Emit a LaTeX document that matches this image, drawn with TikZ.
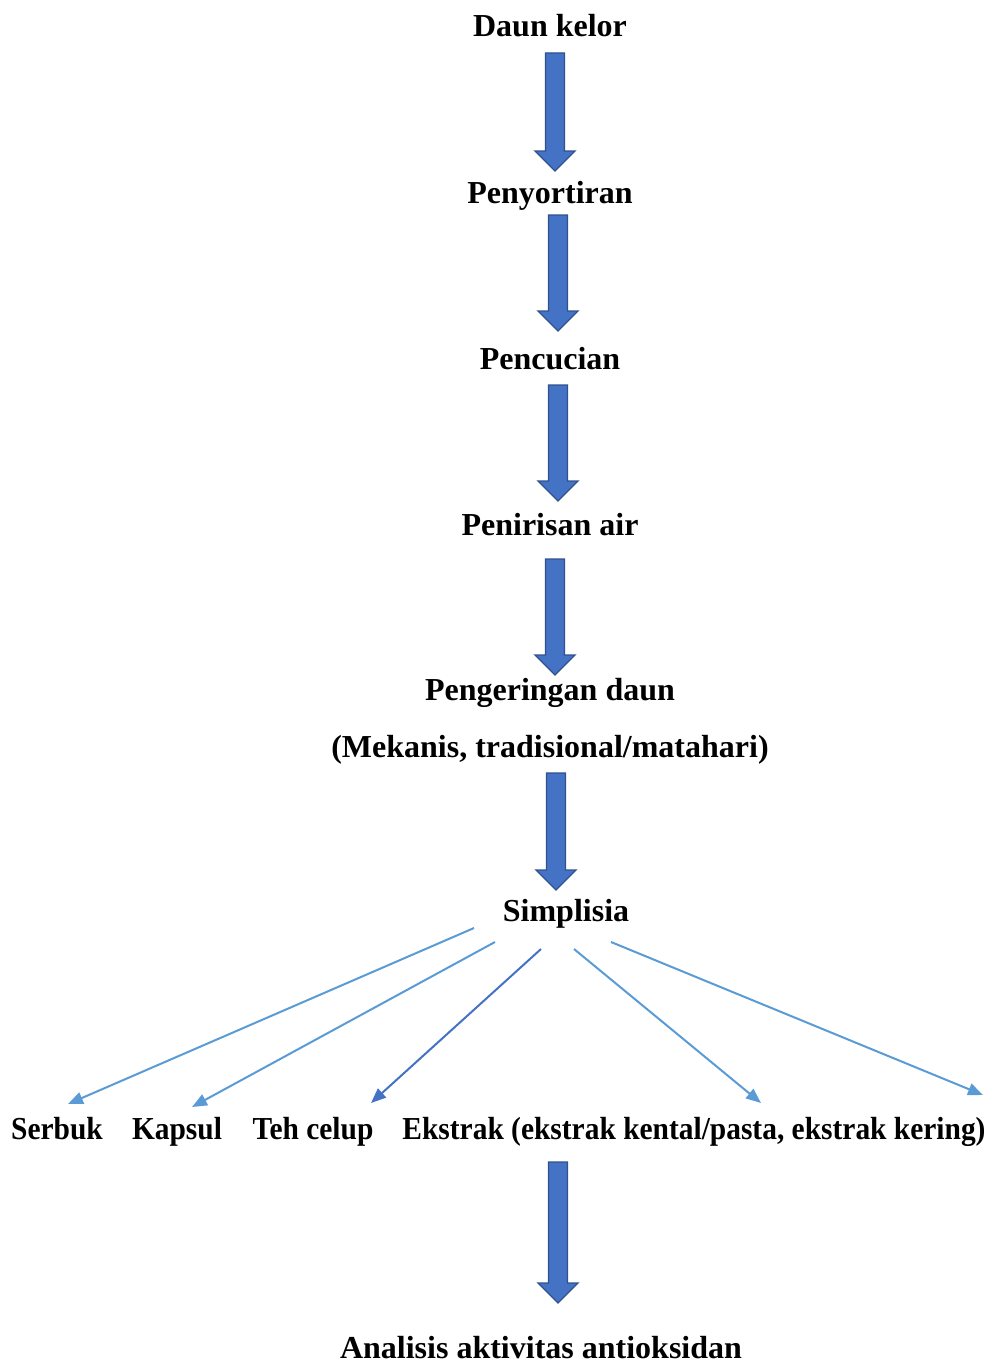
\documentclass[tikz,border=0pt]{standalone}
\usepackage{graphicx}
\usepackage{fontspec}
\setmainfont{Liberation Serif}
\usetikzlibrary{arrows.meta,calc}
\definecolor{blockblue}{HTML}{4472C4}
\definecolor{blockedge}{HTML}{2F528F}
\definecolor{lineblue}{HTML}{5B9BD5}
% fat down arrow from coordinate #1 (top) to #2 (tip)
\newcommand{\blockdown}[2]{%
\filldraw[fill=blockblue, draw=blockedge, line width=1.3pt, line join=miter]
($(#1)+(-9.5,0)$) -- ($(#1)+(9.5,0)$) -- ($(#2)+(9.5,-20)$) -- ($(#2)+(20,-20)$)
-- (#2) -- ($(#2)+(-20,-20)$) -- ($(#2)+(-9.5,-20)$) -- cycle;}
% condensed text of the bottom row
\newcommand{\narrow}[1]{\scalebox{0.92}[1]{#1}}
\begin{document}
\begin{tikzpicture}[x=1pt, y=-1pt,
lbl/.style={font=\fontsize{32}{36}\selectfont\bfseries, inner sep=0, anchor=base},
thin/.style={draw=lineblue, line width=2pt, -{Triangle[length=15pt,width=12pt]}}]
\useasboundingbox (0,0) rectangle (986,1362);
% steps
\node[lbl] (daun) at (550,37) {Daun kelor};
\node[lbl] (sortir) at (550,203) {Penyortiran};
\node[lbl] (cuci) at (550,369) {Pencucian};
\node[lbl] (tiris) at (550,535) {Penirisan air};
\node[lbl] (kering) at (550,700) {Pengeringan daun};
\node[lbl] (metode) at (550,757) {(Mekanis, tradisional/matahari)};
\node[lbl] (simp) at (566,921) {Simplisia};
\node[lbl] (serbuk) at (57,1139) {\narrow{Serbuk}};
\node[lbl] (kapsul) at (177,1139) {\narrow{Kapsul}};
\node[lbl] (teh) at (313,1139) {\narrow{Teh celup}};
\node[lbl] (ekstrak) at (694,1139) {\narrow{Ekstrak (ekstrak kental/pasta, ekstrak kering)}};
\node[lbl] (analisis) at (541,1358) {Analisis aktivitas antioksidan};
% block arrows
\path (555,53) coordinate (a1) (555,171) coordinate (b1)
(558,215) coordinate (a2) (558,331) coordinate (b2)
(558,385) coordinate (a3) (558,501) coordinate (b3)
(555,559) coordinate (a4) (555,675) coordinate (b4)
(556,773) coordinate (a5) (556,890) coordinate (b5)
(558,1162) coordinate (a6) (558,1303) coordinate (b6);
\foreach \i in {1,...,6}{\blockdown{a\i}{b\i}}
% branches from Simplisia
\path (474,928) coordinate (s1) (68,1104) coordinate (e1)
(495,942) coordinate (s2) (192,1107) coordinate (e2)
(541,949) coordinate (s3) (371,1103) coordinate (e3)
(574,949) coordinate (s4) (761,1103) coordinate (e4)
(611,942) coordinate (s5) (983,1095) coordinate (e5);
\draw[thin] (s1) -- (e1);
\draw[thin] (s2) -- (e2);
\draw[thin, draw=blockblue] (s3) -- (e3);
\draw[thin] (s4) -- (e4);
\draw[thin] (s5) -- (e5);
\end{tikzpicture}
\end{document}
